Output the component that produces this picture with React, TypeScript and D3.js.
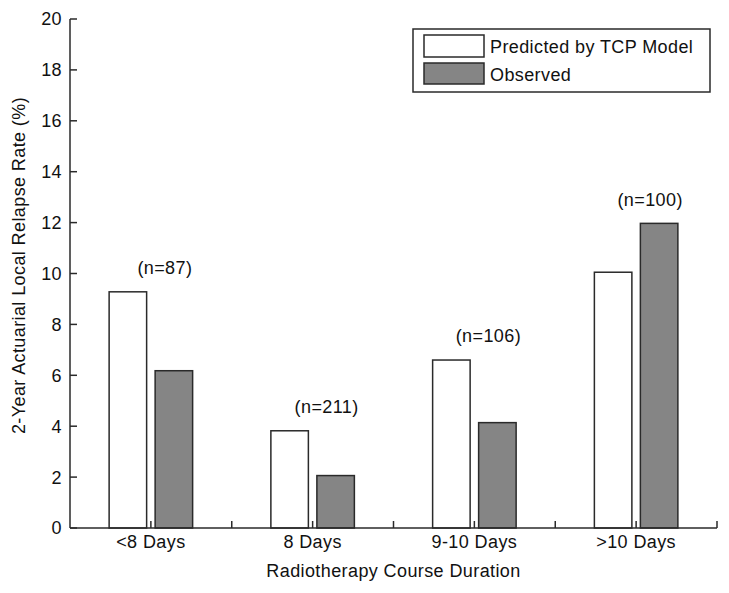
import React from "react";
import * as d3 from "d3";

const categories = ["<8 Days", "8 Days", "9-10 Days", ">10 Days"];
const predicted = [9.28, 3.82, 6.6, 10.05];
const observed = [6.18, 2.06, 4.14, 11.97];
const sampleLabels = ["(n=87)", "(n=211)", "(n=106)", "(n=100)"];
const yTicks = [0, 2, 4, 6, 8, 10, 12, 14, 16, 18, 20];
const xTicks = [1, 1.5, 2, 2.5, 3, 3.5, 4, 4.5];
const seriesNames = ["Predicted by TCP Model", "Observed"];

const W = 729;
const H = 593;
const left = 70;
const right = 717;
const top = 19;
const bottom = 528;
const FONT = "'Liberation Sans', Arial, sans-serif";
const GRAY = "#858585";
const STROKE = "#2a2a2a";

export default function App() {
  const x = d3.scaleLinear().domain([0.5, 4.5]).range([left, right]);
  const y = d3.scaleLinear().domain([0, 20]).range([bottom, top]);
  const barW = 37.5;
  const off = 23;
  const textStyle = { fontFamily: FONT, fontSize: 18, letterSpacing: 0.4, fill: "#111" } as const;

  return (
    <svg width={W} height={H} style={{ position: "absolute", left: 0, top: 0, background: "#fff" }}>
      <rect x={0} y={0} width={W} height={H} fill="#fff" />
      {/* bars */}
      {categories.map((c, i) => {
        const cx = x(i + 1);
        return (
          <g key={c}>
            <rect x={cx - off - barW / 2} y={y(predicted[i])} width={barW} height={y(0) - y(predicted[i])}
              fill="#fff" stroke={STROKE} strokeWidth={1.5} />
            <rect x={cx + off - barW / 2} y={y(observed[i])} width={barW} height={y(0) - y(observed[i])}
              fill={GRAY} stroke={STROKE} strokeWidth={1.5} />
            <text x={cx + 14} y={y(Math.max(predicted[i], observed[i]) + 0.7)} textAnchor="middle" {...textStyle}>
              {sampleLabels[i]}
            </text>
          </g>
        );
      })}
      {/* axes */}
      <line x1={left} x2={left} y1={top} y2={bottom} stroke={STROKE} strokeWidth={1.5} />
      <line x1={left} x2={right} y1={bottom} y2={bottom} stroke={STROKE} strokeWidth={1.5} />
      {yTicks.map((t) => (
        <g key={"y" + t}>
          <line x1={left} x2={left + 7} y1={y(t)} y2={y(t)} stroke={STROKE} strokeWidth={1.5} />
          <text x={62} y={y(t)} dy="0.36em" textAnchor="end" {...textStyle}>{t}</text>
        </g>
      ))}
      {xTicks.map((t) => (
        <line key={"x" + t} x1={x(t)} x2={x(t)} y1={bottom} y2={bottom - 7} stroke={STROKE} strokeWidth={1.5} />
      ))}
      {categories.map((c, i) => (
        <text key={"xl" + c} x={x(i + 1)} y={548} textAnchor="middle" {...textStyle}>{c}</text>
      ))}
      <text x={(left + right) / 2} y={577} textAnchor="middle" {...textStyle}>Radiotherapy Course Duration</text>
      <text transform={`translate(25,${(top + bottom) / 2 - 8}) rotate(-90)`} textAnchor="middle" {...textStyle}>
        2-Year Actuarial Local Relapse Rate (%)
      </text>
      {/* legend */}
      <rect x={413} y={29} width={297} height={63} fill="#fff" stroke={STROKE} strokeWidth={1.5} />
      <rect x={424} y={35} width={60} height={22} fill="#fff" stroke={STROKE} strokeWidth={1.5} />
      <rect x={424} y={63} width={60} height={21} fill={GRAY} stroke={STROKE} strokeWidth={1.5} />
      <text x={490} y={53} {...textStyle}>{seriesNames[0]}</text>
      <text x={490} y={81} {...textStyle}>{seriesNames[1]}</text>
    </svg>
  );
}
